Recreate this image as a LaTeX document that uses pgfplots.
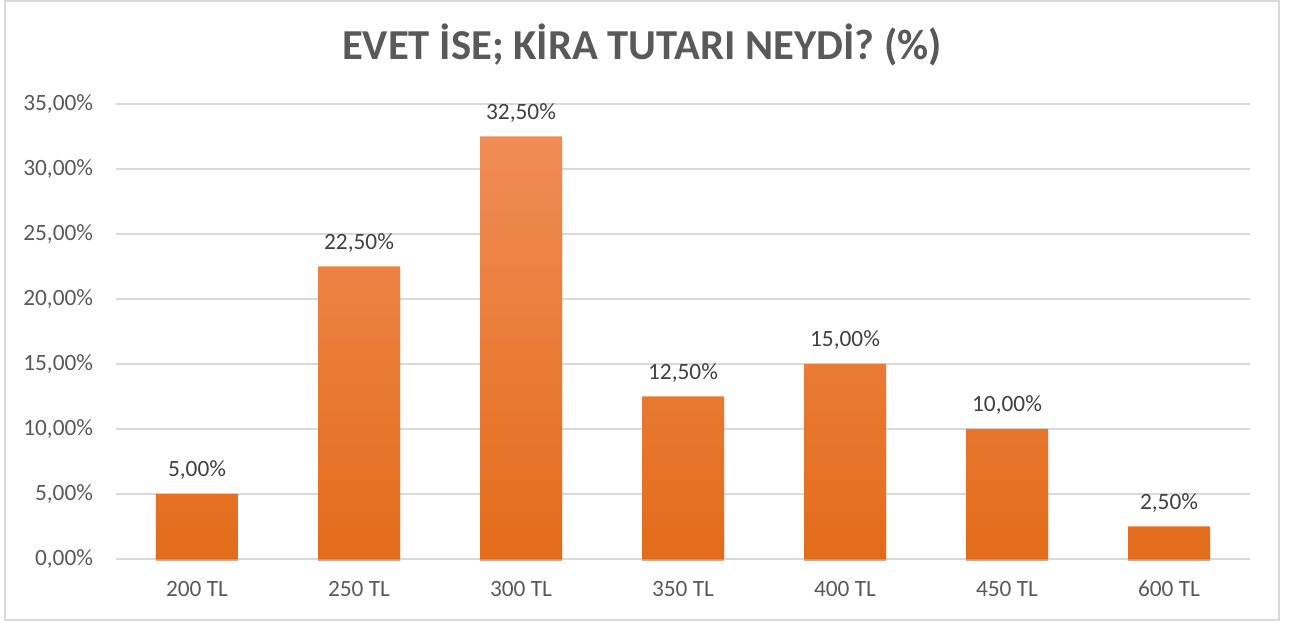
\documentclass[border=0pt]{standalone}
\usepackage{fontspec}
\setmainfont{Carlito}
\usepackage{pgfplots}
\pgfplotsset{compat=1.18}
\usetikzlibrary{shadows}
\definecolor{txt}{HTML}{595959}
\definecolor{lbl}{HTML}{404040}
\definecolor{gridc}{HTML}{D9D9D9}
\definecolor{bartop}{HTML}{F08C55}
\definecolor{barmid}{HTML}{F47F2B}
\definecolor{barbot}{HTML}{E36C1A}
\begin{document}
\begin{tikzpicture}[x=0.75pt,y=0.75pt]
\path[use as bounding box] (-116,-64) rectangle (1180,559);
\draw[gridc, line width=1pt] (-111,-61) rectangle (1163,558);
\node[anchor=base, font=\fontsize{32}{36}\selectfont\bfseries, text=txt, inner sep=0pt] at (526,499) {EVET İSE; KİRA TUTARI NEYDİ? (\%)};
\begin{axis}[
  at={(0,0)}, anchor=south west,
  scale only axis, width=850.5pt, height=341.25pt,
  xmin=-0.5, xmax=6.5, ymin=0, ymax=35,
  clip=false,
  axis line style={draw=none},
  major tick length=0pt,
  ymajorgrids, grid style={gridc, line width=0.9pt},
  ytick={0,5,...,35},
  yticklabel={\pgfmathprintnumber[fixed,fixed zerofill,precision=2,use comma,assume math mode=true]{\tick}\%},
  yticklabel style={inner sep=0pt, anchor=east, xshift=-17pt, font=\fontsize{17.5}{20}\selectfont, text=txt},
  xtick={0,...,6},
  xticklabels={200 TL,250 TL,300 TL,350 TL,400 TL,450 TL,600 TL},
  xticklabel style={inner sep=0pt, anchor=base, yshift=-28.5pt, font=\fontsize{17.5}{20}\selectfont, text=txt},
  nodes near coords={\pgfmathprintnumber[fixed,fixed zerofill,precision=2,use comma,assume math mode=true]{\pgfplotspointmeta}\%},
  nodes near coords style={inner sep=0pt, anchor=base, yshift=12.75pt, font=\fontsize{17.5}{20}\selectfont, text=lbl},
]
\addplot[ybar, bar width=61.5pt, draw=none, top color=bartop, middle color=barmid, bottom color=barbot,
  drop shadow={shadow xshift=0pt, shadow yshift=-1.5pt, opacity=0.3, fill=black!70}]
  coordinates {(0,5) (1,22.5) (2,32.5) (3,12.5) (4,15) (5,10) (6,2.5)};
\end{axis}
\end{tikzpicture}
\end{document}
